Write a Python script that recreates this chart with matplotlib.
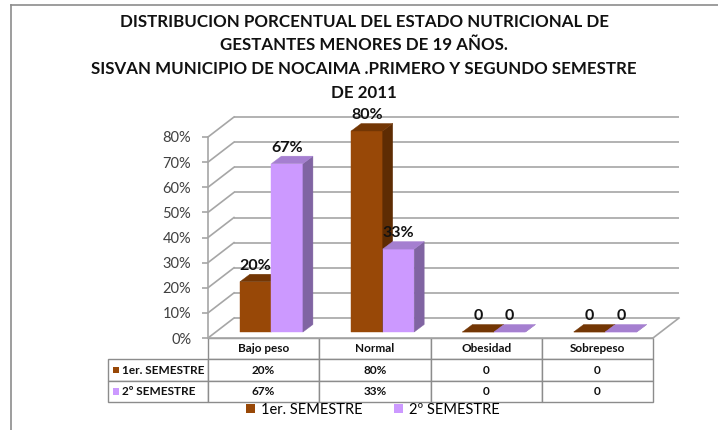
import matplotlib
matplotlib.use('Agg')
import matplotlib.pyplot as plt
from matplotlib.patches import Polygon, Patch, Rectangle
from matplotlib.lines import Line2D
from matplotlib.table import Table

# ---------------- data ----------------
categories = ['Bajo peso', 'Normal', 'Obesidad', 'Sobrepeso']
series_names = ['1er. SEMESTRE', '2º SEMESTRE']
sem1 = [0.20, 0.80, 0.0, 0.0]
sem2 = [0.67, 0.33, 0.0, 0.0]
sem1_labels = ['20%', '80%', '0', '0']
sem2_labels = ['67%', '33%', '0', '0']
yticks = [0.0, 0.1, 0.2, 0.3, 0.4, 0.5, 0.6, 0.7, 0.8]
ytick_labels = ['0%', '10%', '20%', '30%', '40%', '50%', '60%', '70%', '80%']
title_lines = ['DISTRIBUCION PORCENTUAL DEL ESTADO NUTRICIONAL DE',
               'GESTANTES MENORES DE 19 AÑOS.',
               'SISVAN MUNICIPIO DE NOCAIMA .PRIMERO Y SEGUNDO SEMESTRE',
               'DE 2011']

# ---------------- style ----------------
FONT = ['Lato', 'DejaVu Sans']
plt.rcParams['font.family'] = FONT
front_cols = ['#984807', '#CC99FF']
side_cols = ['#5E2C03', '#8064A2']
top_cols = ['#733604', '#A57FD0']
grid_col = '#A6A6A6'

W, H = 718, 430
fig = plt.figure(figsize=(W / 100, H / 100), dpi=100)

# front plane of the plot area (pixels)
PX_L, PX_R, PX_B, PX_T = 208, 653, 338, 137
ax = fig.add_axes([PX_L / W, (H - PX_B) / H, (PX_R - PX_L) / W, (PX_B - PX_T) / H])
ncat = len(categories)
ax.set_xlim(-0.5, ncat - 0.5)
ax.set_ylim(0, 0.8)

ux = ncat / (PX_R - PX_L)        # data units per pixel (x)
uy = 0.8 / (PX_B - PX_T)         # data units per pixel (y)
DX, DY = 26 * ux, 20 * uy        # depth of the floor/walls

# walls: gridlines on back wall + diagonals on side wall
for t in yticks:
    ax.plot([-0.5 + DX, ncat - 0.5 + DX], [t + DY, t + DY], color=grid_col,
            lw=1.2, clip_on=False, zorder=1, solid_capstyle='butt')
    ax.plot([-0.5, -0.5 + DX], [t, t + DY], color=grid_col, lw=1.2,
            clip_on=False, zorder=1)
# floor right edge
ax.plot([ncat - 0.5, ncat - 0.5 + DX], [0, DY], color=grid_col, lw=1.2,
        clip_on=False, zorder=1)

# spines / ticks
for s in ['top', 'right']:
    ax.spines[s].set_visible(False)
ax.spines['left'].set_color(grid_col)
ax.spines['bottom'].set_color(grid_col)
ax.spines['left'].set_linewidth(1.2)
ax.spines['bottom'].set_linewidth(1.2)
ax.set_xticks([])
ax.set_yticks(yticks)
ax.set_yticklabels(ytick_labels)
ax.tick_params(axis='y', length=4, width=1.2, color=grid_col, pad=8,
               labelsize=10.5, labelcolor='#404040')
ax.set_facecolor('none')

# 3D-looking bars
bw = 31.5 * ux
f0 = 0.30                     # position of bar front within floor depth
bdx, bdy = 10 * ux, 7.5 * uy  # bar depth
z = 3
for i in range(ncat):
    for s, vals in enumerate([sem1, sem2]):
        v = vals[i]
        xl = i - bw + s * bw + f0 * DX
        xr = xl + bw
        b = f0 * DY
        ax.bar(xl, v, width=bw, bottom=b, align='edge', color=front_cols[s],
               edgecolor=front_cols[s], lw=0.3, clip_on=False, zorder=z)
        z += 1
        side = Polygon([(xr, b), (xr, b + v), (xr + bdx, b + v + bdy), (xr + bdx, b + bdy)],
                       closed=True, facecolor=side_cols[s], edgecolor=side_cols[s],
                       lw=0.3, clip_on=False, zorder=z)
        ax.add_patch(side)
        z += 1
        top = Polygon([(xl, b + v), (xr, b + v), (xr + bdx, b + v + bdy), (xl + bdx, b + v + bdy)],
                      closed=True, facecolor=top_cols[s], edgecolor=top_cols[s],
                      lw=0.3, clip_on=False, zorder=z)
        ax.add_patch(top)
        z += 1

# data labels
for s, (vals, labs) in enumerate([(sem1, sem1_labels), (sem2, sem2_labels)]):
    for i in range(ncat):
        xc = i - bw + s * bw + f0 * DX + bw / 2
        ax.annotate(labs[i], (xc, vals[i] + f0 * DY), xytext=(0, 11.5),
                    textcoords='offset points', ha='center', va='center',
                    fontsize=11.5, fontweight='bold', color='#111111',
                    annotation_clip=False, zorder=50)

# data table (row labels hang to the left of the plot area)
cell_text = [sem1_labels, sem2_labels]
row_w = (PX_L - 108) / (PX_R - PX_L)
tbl_h = (402 - PX_B) / (PX_B - PX_T)
row_h = tbl_h / 3
tbl = Table(ax, bbox=[0, -tbl_h, 1, tbl_h])
for c, cat in enumerate(categories):
    tbl.add_cell(0, c, width=1 / ncat, height=row_h, text=cat, loc='center')
for r, name in enumerate(series_names):
    cell = tbl.add_cell(r + 1, -1, width=row_w, height=row_h, text=name, loc='left')
    cell.PAD = 0.14
    for c in range(ncat):
        tbl.add_cell(r + 1, c, width=1 / ncat, height=row_h, text=cell_text[r][c],
                     loc='center')
tbl.auto_set_font_size(False)
for (r, c), cell in tbl.get_celld().items():
    cell.set_edgecolor('#8C8C8C')
    cell.set_linewidth(1.0)
    cell.get_text().set_fontsize(8.5)
    cell.get_text().set_fontweight('bold')
    cell.get_text().set_color('#111111')
ax.add_table(tbl)
# legend keys inside row label cells
for s in range(2):
    yc = -row_h * (s + 1.5)
    ax.add_patch(Rectangle((-row_w + 4.5 / (PX_R - PX_L), yc - 3.2 / (PX_B - PX_T)),
                           6 / (PX_R - PX_L), 6.5 / (PX_B - PX_T),
                           transform=ax.transAxes, facecolor=front_cols[s],
                           edgecolor='none', clip_on=False, zorder=60))

# legend
handles = [Patch(facecolor=front_cols[s], edgecolor='none') for s in range(2)]
fig.legend(handles, series_names, loc='center', bbox_to_anchor=(373 / W, 1 - 410 / H),
           ncol=2, frameon=False, fontsize=10.5, handlelength=0.6, handleheight=0.6,
           handletextpad=0.4, columnspacing=2.2, borderpad=0)

# title
for k, line in enumerate(title_lines):
    fig.text(364 / W, 1 - (27 + 23.5 * k) / H, line, ha='center', va='baseline',
             fontsize=12.2, fontweight='bold', color='#111111')

# chart frame
fig.add_artist(Line2D([11 / W, 1], [1 - 5 / H, 1 - 5 / H], color='#8C8C8C', lw=1.2))
fig.add_artist(Line2D([11 / W, 11 / W], [0, 1 - 5 / H], color='#8C8C8C', lw=1.2))

fig.savefig('out.png', dpi=100)
